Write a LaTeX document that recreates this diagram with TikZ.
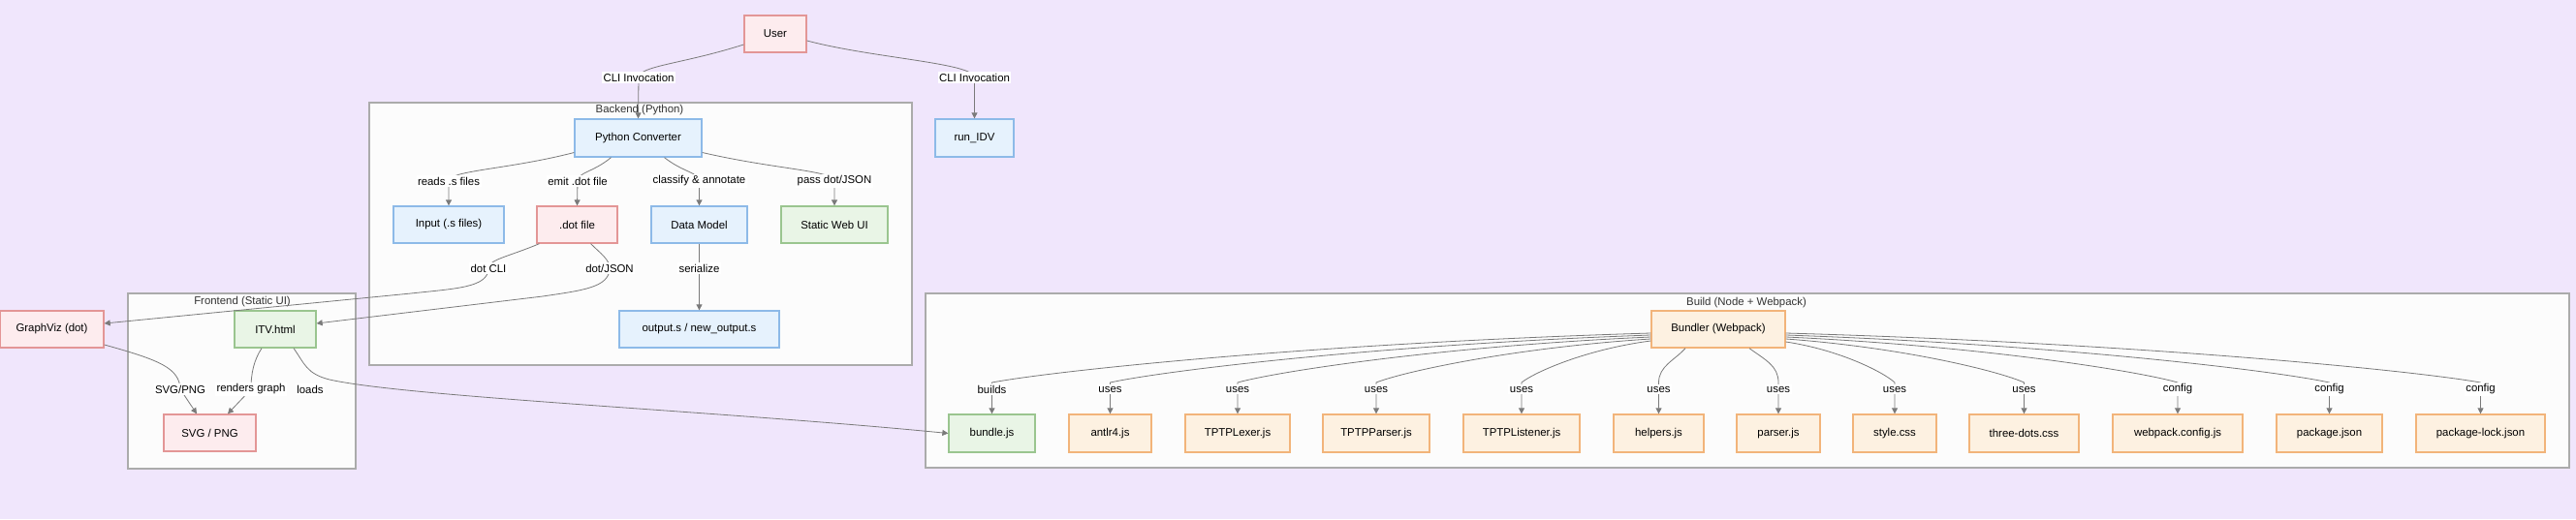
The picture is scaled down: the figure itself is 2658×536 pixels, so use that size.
\documentclass[tikz,border=0pt]{standalone}
\usepackage{fontspec}
\setmainfont{Liberation Sans}
\usetikzlibrary{arrows.meta,calc}
\definecolor{bg}{HTML}{F0E6FC}
\definecolor{clusf}{HTML}{FCFCFC}
\definecolor{clusd}{HTML}{ABABAB}
\definecolor{pinkf}{HTML}{FDECEE}
\definecolor{pinkd}{HTML}{E39696}
\definecolor{bluef}{HTML}{E6F2FD}
\definecolor{blued}{HTML}{8DBAE8}
\definecolor{greenf}{HTML}{E9F5E6}
\definecolor{greend}{HTML}{9AC58F}
\definecolor{orangef}{HTML}{FDF1E1}
\definecolor{oranged}{HTML}{F2B47A}
\definecolor{edgec}{HTML}{7A7A7A}
\definecolor{titlec}{HTML}{333333}
\newcommand\bedge[6]{%
  \draw[edge] ($(bund.#1)+(0,#3)$) .. controls ({#2+0.5*(#4-#2)},{340+#3+0.2*(55-#3)}) and ({#4+0.1*(#2-#4)},{340+#3+0.75*(55-#3)}) .. (#4,395) -- (#4,402) node[lbl]{#5} -- (#6.north);}
\begin{document}
\begin{tikzpicture}[x=1pt,y=-1pt,font=\fontsize{11.4}{13}\selectfont,
  box/.style={line width=1.3pt,inner sep=0pt,text=black,minimum height=38pt},
  pinkbox/.style={box,fill=pinkf,draw=pinkd},
  bluebox/.style={box,fill=bluef,draw=blued},
  greenbox/.style={box,fill=greenf,draw=greend},
  orangebox/.style={box,fill=orangef,draw=oranged,minimum height=39pt},
  edge/.style={draw=edgec,line width=0.8pt,-{Triangle[length=6pt,width=6pt]}},
  lbl/.style={fill=white,inner sep=1.5pt,text=black},
  clus/.style={draw=clusd,fill=clusf,line width=1.2pt},
  ctitle/.style={text=titlec,inner sep=0pt}]
\path[use as bounding box,fill=bg] (0,0) rectangle (2658,536);
% clusters
\draw[clus] (381,106) rectangle (941,377);
\node[ctitle] (tback) at (660,114) {Backend (Python)};
\draw[clus] (132,303) rectangle (367,484);
\node[ctitle] (tfront) at (250,312) {Frontend (Static UI)};
\draw[clus] (955,303) rectangle (2651,483);
\node[ctitle] (tbuild) at (1802,313) {Build (Node + Webpack)};
% nodes
\node[pinkbox,minimum width=64pt] (user) at (800,35) {User};
\node[bluebox,minimum width=81pt,minimum height=39pt] (run) at (1005.5,142.5) {run\_IDV};
\node[bluebox,minimum width=131pt,minimum height=39pt] (pc) at (658.5,142.5) {Python Converter};
\node[bluebox,minimum width=114pt] (input) at (463,232) {Input (.s files)};
\node[pinkbox,minimum width=83pt] (dotf) at (595.5,232) {.dot file};
\node[bluebox,minimum width=99pt] (dm) at (721.5,232) {Data Model};
\node[greenbox,minimum width=110pt] (swui) at (861,232) {Static Web UI};
\node[bluebox,minimum width=165pt] (out) at (721.5,340) {output.s / new\_output.s};
\node[pinkbox,minimum width=107pt] (gv) at (53.5,340) {GraphViz (dot)};
\node[greenbox,minimum width=84pt] (itv) at (284,340) {ITV.html};
\node[pinkbox,minimum width=95pt] (svg) at (216.5,447) {SVG / PNG};
\node[orangebox,minimum width=138pt,minimum height=38pt] (bund) at (1773,340) {Bundler (Webpack)};
\node[greenbox,minimum width=89pt,minimum height=39pt] (bundle) at (1023.5,447.5) {bundle.js};
\node[orangebox,minimum width=85pt] (antlr) at (1145.5,447.5) {antlr4.js};
\node[orangebox,minimum width=108pt] (lexer) at (1277,447.5) {TPTPLexer.js};
\node[orangebox,minimum width=110pt] (parserjs) at (1420,447.5) {TPTPParser.js};
\node[orangebox,minimum width=120pt] (listener) at (1570,447.5) {TPTPListener.js};
\node[orangebox,minimum width=93pt] (helpers) at (1711.5,447.5) {helpers.js};
\node[orangebox,minimum width=86pt] (parser) at (1835,447.5) {parser.js};
\node[orangebox,minimum width=86pt] (style) at (1955,447.5) {style.css};
\node[orangebox,minimum width=113pt] (three) at (2088.5,447.5) {three-dots.css};
\node[orangebox,minimum width=134pt] (wpc) at (2247,447.5) {webpack.config.js};
\node[orangebox,minimum width=109pt] (pkg) at (2403.5,447.5) {package.json};
\node[orangebox,minimum width=133pt] (pkgl) at (2559.5,447.5) {package-lock.json};
% edges
\draw[edge] ($(user.west)+(0,11)$) .. controls (705,66) and (659,68) .. (659,80) node[lbl]{CLI Invocation} -- (pc.north);
\draw[edge] ($(user.east)+(0,7)$) .. controls (900,60) and (1005,65) .. (1005.5,80) node[lbl]{CLI Invocation} -- (run.north);
\draw[edge] ($(pc.west)+(0,15)$) .. controls (525,175) and (463,176) .. (463,187) node[lbl]{reads .s files} -- (input.north);
\draw[edge] ($(pc.south)+(-28,0)$) .. controls (612,178) and (596,178) .. (596,187) node[lbl]{emit .dot file} -- (dotf.north);
\draw[edge] ($(pc.south)+(27,0)$) .. controls (705,178) and (721,178) .. (721.5,187) node[lbl]{classify \& annotate} -- (dm.north);
\draw[edge] ($(pc.east)+(0,15)$) .. controls (800,175) and (860,176) .. (861,187) node[lbl]{pass dot/JSON} -- (swui.north);
\draw[edge] ($(dotf.south)+(-39,0)$) .. controls (525,265) and (504,268) .. (504,277) node[lbl]{dot CLI} .. controls (504,297) and (470,298) .. (424,303) -- ($(gv.east)+(0,-6)$);
\draw[edge] ($(dotf.south)+(14,0)$) .. controls (620,262) and (629,268) .. (629,277) node[lbl]{dot/JSON} .. controls (629,297) and (600,300) .. (560,306) -- ($(itv.east)+(0,-6)$);
\draw[edge] (dm.south) -- (721.5,277) node[lbl]{serialize} -- (out.north);
\draw[edge] ($(gv.east)+(0,16)$) .. controls (165,372) and (185,380) .. (186,402) node[lbl]{SVG/PNG} -- ($(svg.north)+(-13.5,0)$);
\draw[edge] ($(itv.south)+(-14,0)$) .. controls (262,372) and (259,385) .. (259,402) node[lbl]{renders graph} -- ($(svg.north)+(18.5,0)$);
\draw[edge] ($(itv.south)+(19,0)$) .. controls (314,375) and (316,386) .. (340,392) .. controls (420,410) and (750,425) .. (bundle.west);
\node[lbl] (loadslbl) at (320,402) {loads};
% bundler edges
\bedge{west}{1704}{4}{1023.5}{builds}{bundle}
\bedge{west}{1704}{6}{1145.5}{uses}{antlr}
\bedge{west}{1704}{8}{1277}{uses}{lexer}
\bedge{west}{1704}{10}{1420}{uses}{parserjs}
\bedge{west}{1704}{12}{1570}{uses}{listener}
\draw[edge] ($(bund.south)+(-34,0)$) .. controls (1728,372) and (1711.5,378) .. (1711.5,395) -- (1711.5,402) node[lbl]{uses} -- (helpers.north);
\draw[edge] ($(bund.south)+(32,0)$) .. controls (1822,372) and (1835,378) .. (1835,395) -- (1835,402) node[lbl]{uses} -- (parser.north);
\bedge{east}{1842}{13}{1955}{uses}{style}
\bedge{east}{1842}{10}{2088.5}{uses}{three}
\bedge{east}{1842}{8}{2247}{config}{wpc}
\bedge{east}{1842}{6}{2403.5}{config}{pkg}
\bedge{east}{1842}{4}{2559.5}{config}{pkgl}
\end{tikzpicture}
\end{document}
